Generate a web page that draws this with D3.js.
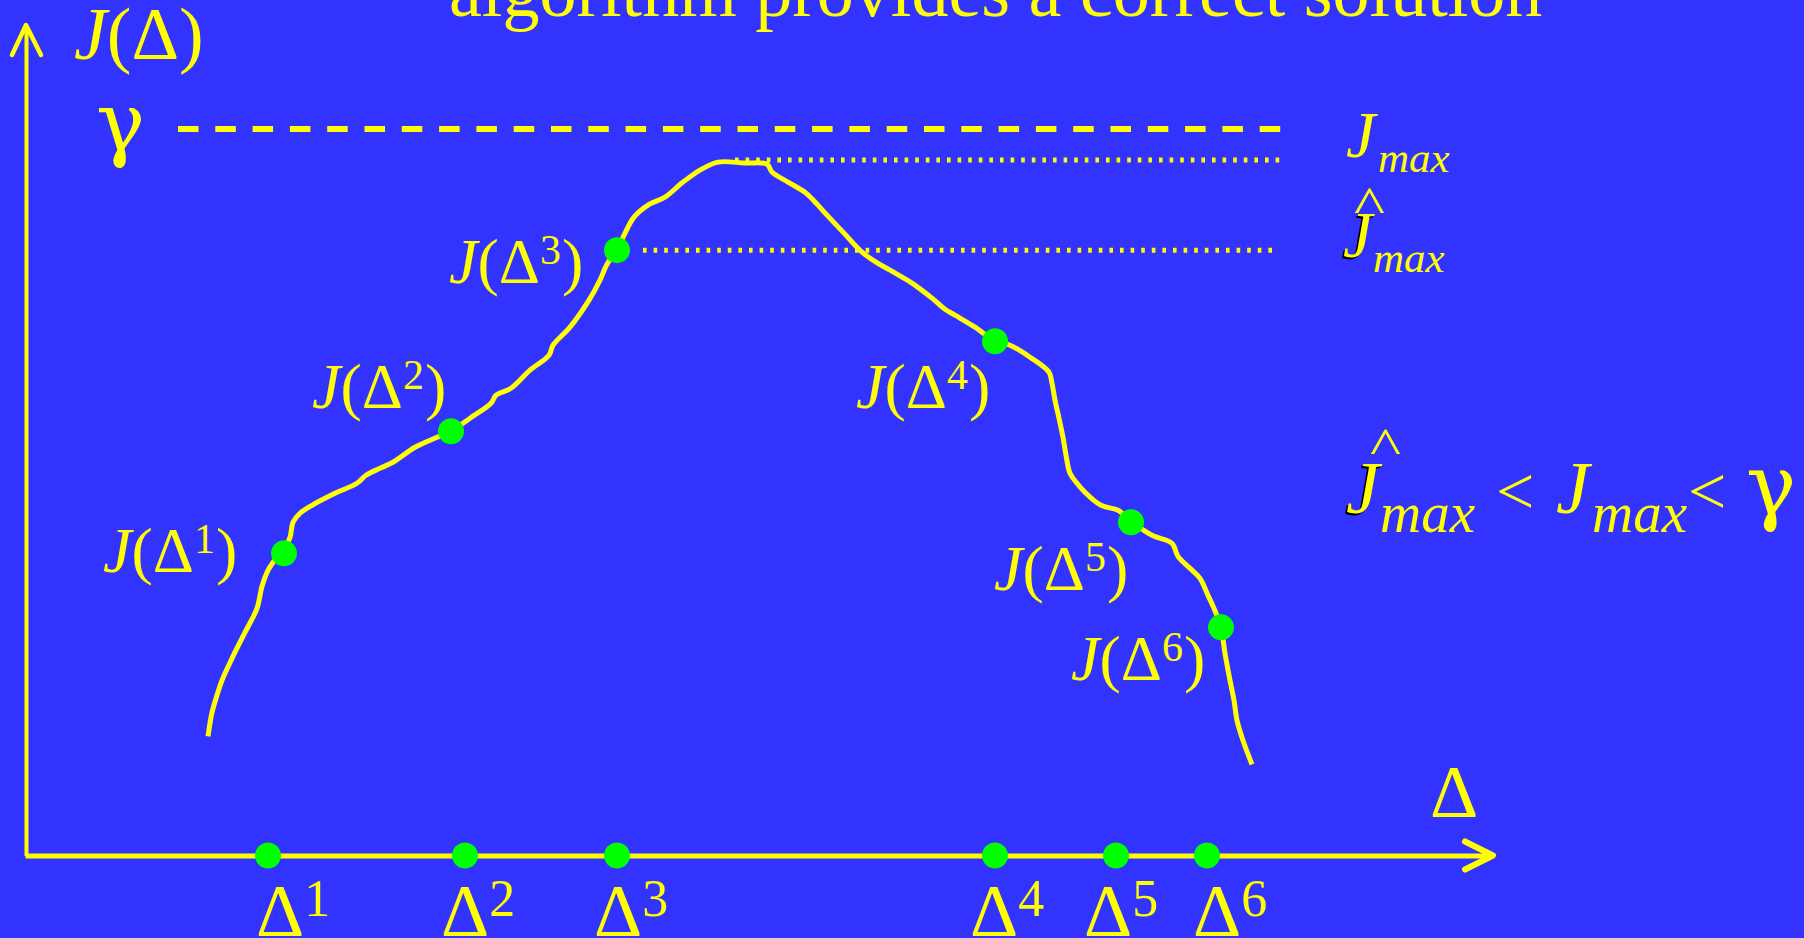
<!DOCTYPE html>
<html>
<head>
<meta charset="utf-8">
<script src="https://cdn.jsdelivr.net/npm/d3@7"></script>
<style>
  html, body { margin: 0; padding: 0; background: #3333ff; overflow: hidden; }
  svg { display: block; }
  text { font-family: "Liberation Serif", "Times New Roman", serif; fill: #ffff00; }
  text.greek { font-family: "DejaVu Serif", serif; }
</style>
</head>
<body>
<div id="chart"></div>
<script>
// chart data (Δ along the horizontal axis, J(Δ) up the vertical, arbitrary units)
const title = "algorithm provides a correct solution";

const curveDelta = [183, 187, 191, 197, 207, 220, 232, 237, 243, 251, 259, 265, 268, 275, 287, 310,
  332, 341, 355, 368, 390, 412, 426, 445, 466, 471, 486, 505, 524, 528, 545, 564, 575, 582, 592,
  600, 609, 623, 640, 658, 675, 693, 720, 742, 747, 763, 781, 792, 802, 819, 837, 851, 865, 887,
  907, 920, 930, 950, 970, 985, 1005, 1024, 1027, 1030, 1034, 1038, 1041, 1045, 1052, 1059, 1076,
  1093, 1106, 1127, 1147, 1153, 1165, 1175, 1183, 1189, 1196, 1200, 1205, 1209, 1212, 1218, 1227];
const curveJ = [119, 143, 157, 175, 197, 223, 247, 269, 285, 297, 307, 318, 333, 342, 350, 362,
  372, 380, 387, 393, 408, 418, 424, 437, 452, 460, 467, 485, 500, 510, 528, 555, 575, 591, 605,
  622, 638, 650, 658, 673, 685, 693, 692, 691, 683, 673, 662, 651, 640, 622, 603, 593, 585, 572,
  557, 546, 540, 528, 514, 510, 498, 483, 472, 455, 437, 418, 400, 382, 372, 364, 350,
  345, 334, 320, 312, 299, 287, 277, 260, 247, 228, 202, 175, 155, 135, 115, 91];

const sampleNames = ["1", "2", "3", "4", "5", "6"];
const sampleDelta = [243, 440, 592, 970, 1091, 1182];      // dots on the Δ axis
const sampleCurveDelta = [259, 426, 592, 970, 1106, 1196]; // dots on the curve
const sampleJ = [302, 424, 605, 514, 333, 228];

// where the labels sit, in chart units
const axisLabelDelta = [231, 416, 569, 945, 1059, 1168];
const labelDelta = [78, 287, 424, 831, 969, 1046];
const labelJ = [283, 447, 572, 447, 265, 175];

// reference levels
const gamma = 726;
const jMax = 695;
const jHatMax = sampleJ[2];
const gammaSpan = [153, 1258];
const jMaxSpan = [710, 1258];
const jHatSpan = [618, 1251];

const W = 1804, H = 938;
const yellow = "#ffff00", green = "#00ff00";

const svg = d3.select("#chart").append("svg")
    .attr("width", W)
    .attr("height", H);

svg.append("rect").attr("width", W).attr("height", H).attr("fill", "#3333ff");

const x = d3.scaleLinear().domain([0, 1467]).range([25, 1492]);
const y = d3.scaleLinear().domain([0, 830]).range([855.5, 25]);

// title, cut off by the top edge
svg.append("text")
    .attr("x", 449).attr("y", 16)
    .attr("font-size", 74)
    .text(title);

// reference lines
svg.append("line")
    .attr("x1", x(gammaSpan[0])).attr("x2", x(gammaSpan[1]))
    .attr("y1", y(gamma)).attr("y2", y(gamma))
    .attr("stroke", yellow).attr("stroke-width", 6)
    .attr("stroke-dasharray", "20.5 16.8");

svg.append("line")
    .attr("x1", x(jMaxSpan[0])).attr("x2", x(jMaxSpan[1]))
    .attr("y1", y(jMax)).attr("y2", y(jMax))
    .attr("stroke", yellow).attr("stroke-width", 5)
    .attr("stroke-dasharray", "3.6 7");

svg.append("line")
    .attr("x1", x(jHatSpan[0])).attr("x2", x(jHatSpan[1]))
    .attr("y1", y(jHatMax)).attr("y2", y(jHatMax))
    .attr("stroke", yellow).attr("stroke-width", 5)
    .attr("stroke-dasharray", "3.6 7");

// axes
const xAxis = svg.append("g")
    .attr("transform", `translate(0,${y(0)})`)
    .call(d3.axisBottom(x).tickValues([]).tickSizeOuter(0));
xAxis.select(".domain").attr("stroke", yellow).attr("stroke-width", 5);

const yAxis = svg.append("g")
    .attr("transform", `translate(26,0)`)
    .call(d3.axisLeft(y).tickValues([]).tickSizeOuter(0));
yAxis.select(".domain").attr("stroke", yellow).attr("stroke-width", 4);

svg.append("path")
    .attr("d", `M1465,${y(0) - 14} L${x(1467) + 1},${y(0)} L1465,${y(0) + 14}`)
    .attr("fill", "none").attr("stroke", yellow).attr("stroke-width", 6)
    .attr("stroke-linecap", "round").attr("stroke-linejoin", "round");

svg.append("path")
    .attr("d", `M12,55 L26,${y(830)} L41,55`)
    .attr("fill", "none").attr("stroke", yellow).attr("stroke-width", 4.5)
    .attr("stroke-linecap", "round").attr("stroke-linejoin", "round");

// axis titles
const jTitle = svg.append("text").attr("x", 74).attr("y", 59).attr("font-size", 74);
jTitle.append("tspan").attr("font-style", "italic").text("J");
jTitle.append("tspan").text("(Δ)");

svg.append("text")
    .attr("x", 1430).attr("y", 817)
    .attr("font-size", 75)
    .text("Δ");

svg.append("text")
    .attr("class", "greek")
    .attr("x", 96).attr("y", 151)
    .attr("font-size", 82)
    .text("γ");

// curve
const line = d3.line()
    .x(d => x(d[0]))
    .y(d => y(d[1]))
    .curve(d3.curveCatmullRom.alpha(0.5));

svg.append("path")
    .datum(d3.zip(curveDelta, curveJ))
    .attr("d", line)
    .attr("fill", "none")
    .attr("stroke", yellow)
    .attr("stroke-width", 5)
    .attr("stroke-linejoin", "round");

// sample dots
svg.selectAll(".axis-dot")
  .data(sampleDelta)
  .enter().append("circle")
    .attr("class", "axis-dot")
    .attr("cx", d => x(d))
    .attr("cy", y(0))
    .attr("r", 13)
    .attr("fill", green);

svg.selectAll(".curve-dot")
  .data(d3.zip(sampleCurveDelta, sampleJ))
  .enter().append("circle")
    .attr("class", "curve-dot")
    .attr("cx", d => x(d[0]))
    .attr("cy", d => y(d[1]))
    .attr("r", 13)
    .attr("fill", green);

// Δⁿ under the axis
axisLabelDelta.forEach((d, i) => {
  const t = svg.append("text")
      .attr("x", x(d))
      .attr("y", 936)
      .attr("font-size", 75);
  t.append("tspan").text("Δ");
  t.append("tspan").attr("dy", -20).attr("font-size", 52).text(sampleNames[i]);
});

// J(Δⁿ) next to the curve
labelDelta.forEach((d, i) => {
  const t = svg.append("text")
      .attr("x", x(d))
      .attr("y", y(labelJ[i]))
      .attr("font-size", 64);
  t.append("tspan").attr("font-style", "italic").text("J");
  t.append("tspan").text("(Δ");
  t.append("tspan").attr("dy", -19).attr("font-size", 42).text(sampleNames[i]);
  t.append("tspan").attr("dx", 1).attr("dy", 19).text(")");
});

// right hand labels
function jWithSub(gx, gy, jSize, subSize, subDx, subDy, hat, shadow) {
  const g = svg.append("g").attr("transform", `translate(${gx},${gy})`);
  if (hat) {
    g.append("text")
        .attr("transform", `translate(${hat.x},${hat.y}) scale(1,0.8)`)
        .attr("font-size", hat.size).text("^");
  }
  if (shadow) {
    g.append("text").attr("x", -2).attr("y", 2)
        .attr("font-size", jSize).attr("font-style", "italic")
        .style("fill", "#000").text("J");
  }
  g.append("text").attr("font-size", jSize).attr("font-style", "italic").text("J");
  g.append("text").attr("x", subDx).attr("y", subDy)
      .attr("font-size", subSize).attr("font-style", "italic").text("max");
  return g;
}

jWithSub(1346, 157, 66, 43, 32, 15, null, false);
jWithSub(1343, 257, 66, 43, 30, 15, { x: 11, y: -34, size: 66 }, true);

// Ĵmax < Jmax < γ
jWithSub(1346, 513, 75, 57, 34, 19, { x: 24, y: -49, size: 66 }, true);
svg.append("text").attr("x", 1496).attr("y", 514).attr("font-size", 68).text("<");
jWithSub(1556, 513, 75, 57, 36, 19, null, false);
svg.append("text").attr("x", 1688).attr("y", 514).attr("font-size", 68).text("<");
svg.append("text").attr("class", "greek")
    .attr("x", 1746).attr("y", 514).attr("font-size", 84).text("γ");
</script>
</body>
</html>
